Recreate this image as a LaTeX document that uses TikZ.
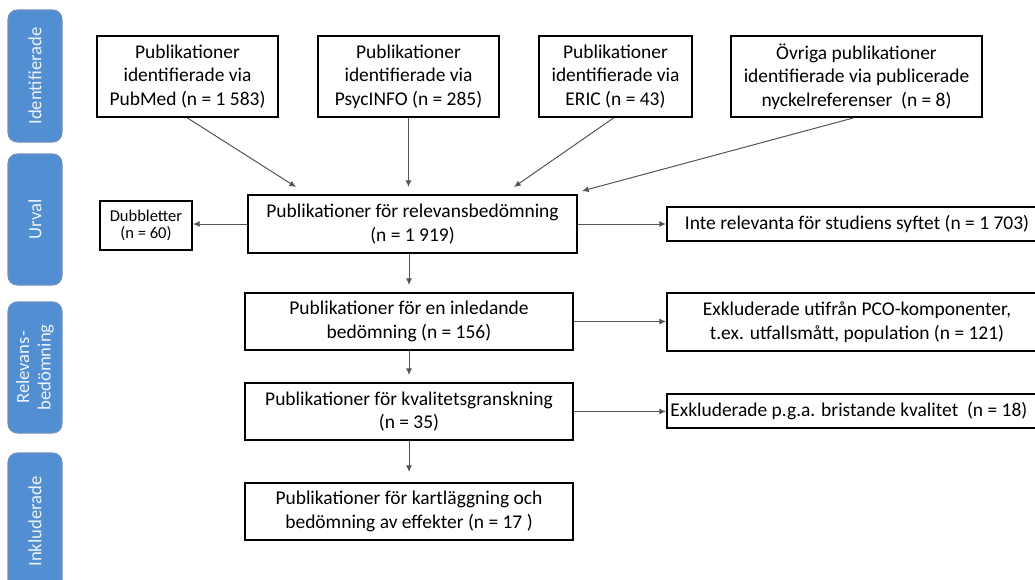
\documentclass[tikz,border=0pt]{standalone}
\usepackage{fontspec}
\setmainfont{Carlito}
\usetikzlibrary{arrows.meta,calc}
\definecolor{barblue}{RGB}{82,142,210}
\definecolor{baredge}{RGB}{110,145,190}
\definecolor{arrgray}{RGB}{85,85,85}
\begin{document}
\begin{tikzpicture}[x=0.75pt,y=-0.75pt,
  boxbase/.style={draw=black,line width=1.5pt,fill=white,inner sep=0pt,
    font=\fontsize{14.6}{17.6}\selectfont},
  box/.style={boxbase,align=center},
  smallbox/.style={box,font=\fontsize{12.4}{13.2}\selectfont},
  bar/.style={draw=baredge,line width=0.8pt,fill=barblue,rounded corners=7pt,rotate=90,
    inner sep=0pt,align=center,text=white!90!barblue,minimum height=40.5pt,
    font=\fontsize{14}{16}\selectfont},
  arr/.style={draw=arrgray,line width=0.75pt,-{Latex[length=5pt,width=4.5pt]}}]
\useasboundingbox (0,0) rectangle (1035,579);

% phase bars
\node[bar,minimum width=99pt]    (b1) at (35,76)    {Identifierade};
\node[bar,minimum width=98.25pt] (b2) at (35,219.5) {Urval};
\node[bar,minimum width=98.25pt] (b3) at (35,367.5) {Relevans-\\bedömning};
\node[bar,minimum width=102.75pt] (b4) at (35,521.5) {Inkluderade};

% sources
\node[box,minimum width=135.75pt,minimum height=60.75pt] (pub) at (187.5,76.5)
  {Publikationer\\identifierade via\\PubMed (n = 1 583)};
\node[box,minimum width=135.75pt,minimum height=60.75pt] (psy) at (408.5,76.5)
  {Publikationer\\identifierade via\\PsycINFO (n = 285)};
\node[box,minimum width=114.75pt,minimum height=60.75pt] (eric) at (615.5,76.5)
  {Publikationer\\identifierade via\\ERIC (n = 43)};
\node[box,minimum width=188.25pt,minimum height=60.75pt] (ovr) at (856.5,76.5)
  {Övriga publikationer\\identifierade via publicerade\\nyckelreferenser\ \ (n = 8)};

% main flow
\node[box,minimum width=246.75pt,minimum height=43.5pt] (rel) at (412.5,224)
  {Publikationer för relevansbedömning\\(n = 1 919)};
\node[smallbox,minimum width=69pt,minimum height=36.75pt] (dub) at (146,225.5)
  {Dubbletter\\(n = 60)};
\node[box,minimum width=285pt,minimum height=25.5pt] (inte) at (857,224)
  {Inte relevanta för studiens syftet (n = 1 703)};
\node[box,minimum width=246pt,minimum height=42.75pt] (inl) at (409,321.5)
  {Publikationer för en inledande\\bedömning (n = 156)};
\node[box,minimum width=285pt,minimum height=43.5pt] (pco) at (857,322)
  {Exkluderade utifrån PCO-komponenter,\\t.ex. utfallsmått, population (n = 121)};
\node[box,minimum width=246pt,minimum height=42.75pt] (kval) at (409,411.5)
  {Publikationer för kvalitetsgranskning\\(n = 35)};
\node[boxbase,minimum height=25.5pt,inner xsep=2.5pt] (exk) at (857,411)
  {\hbox to 280pt{Exkluderade p.g.a. bristande kvalitet\ \ (n = 18)\hfil}};
\node[box,minimum width=246pt,minimum height=42.75pt] (kart) at (409,511.5)
  {Publikationer för kartläggning och\\bedömning av effekter (n = 17 )};

% connectors
\draw[arr] (pub.south) -- ($(rel.north west)+(49,-7)$);
\draw[arr] (psy.south) -- ($(psy.south |- rel.north)+(0,-7)$);
\draw[arr] ([xshift=-1.5pt]eric.south) -- ($(rel.north west)+(267,-7)$);
\draw[arr] ([xshift=-2.5pt]ovr.south) -- ($(rel.north east)+(4,-3)$);
\draw[arr] (rel.west) -- (rel.west -| dub.east);
\draw[arr] (rel.east) -- (rel.east -| inte.west);
\draw[arr] (inl.north |- rel.south) -- ($(inl.north)+(0,-7)$);
\draw[arr] (inl.east) -- (inl.east -| pco.west);
\draw[arr] (inl.south) -- ($(kval.north)+(0,-7)$);
\draw[arr] (kval.east) -- (kval.east -| exk.west);
\draw[arr] (kval.south) -- ($(kart.north)+(0,-10)$);
\end{tikzpicture}
\end{document}
